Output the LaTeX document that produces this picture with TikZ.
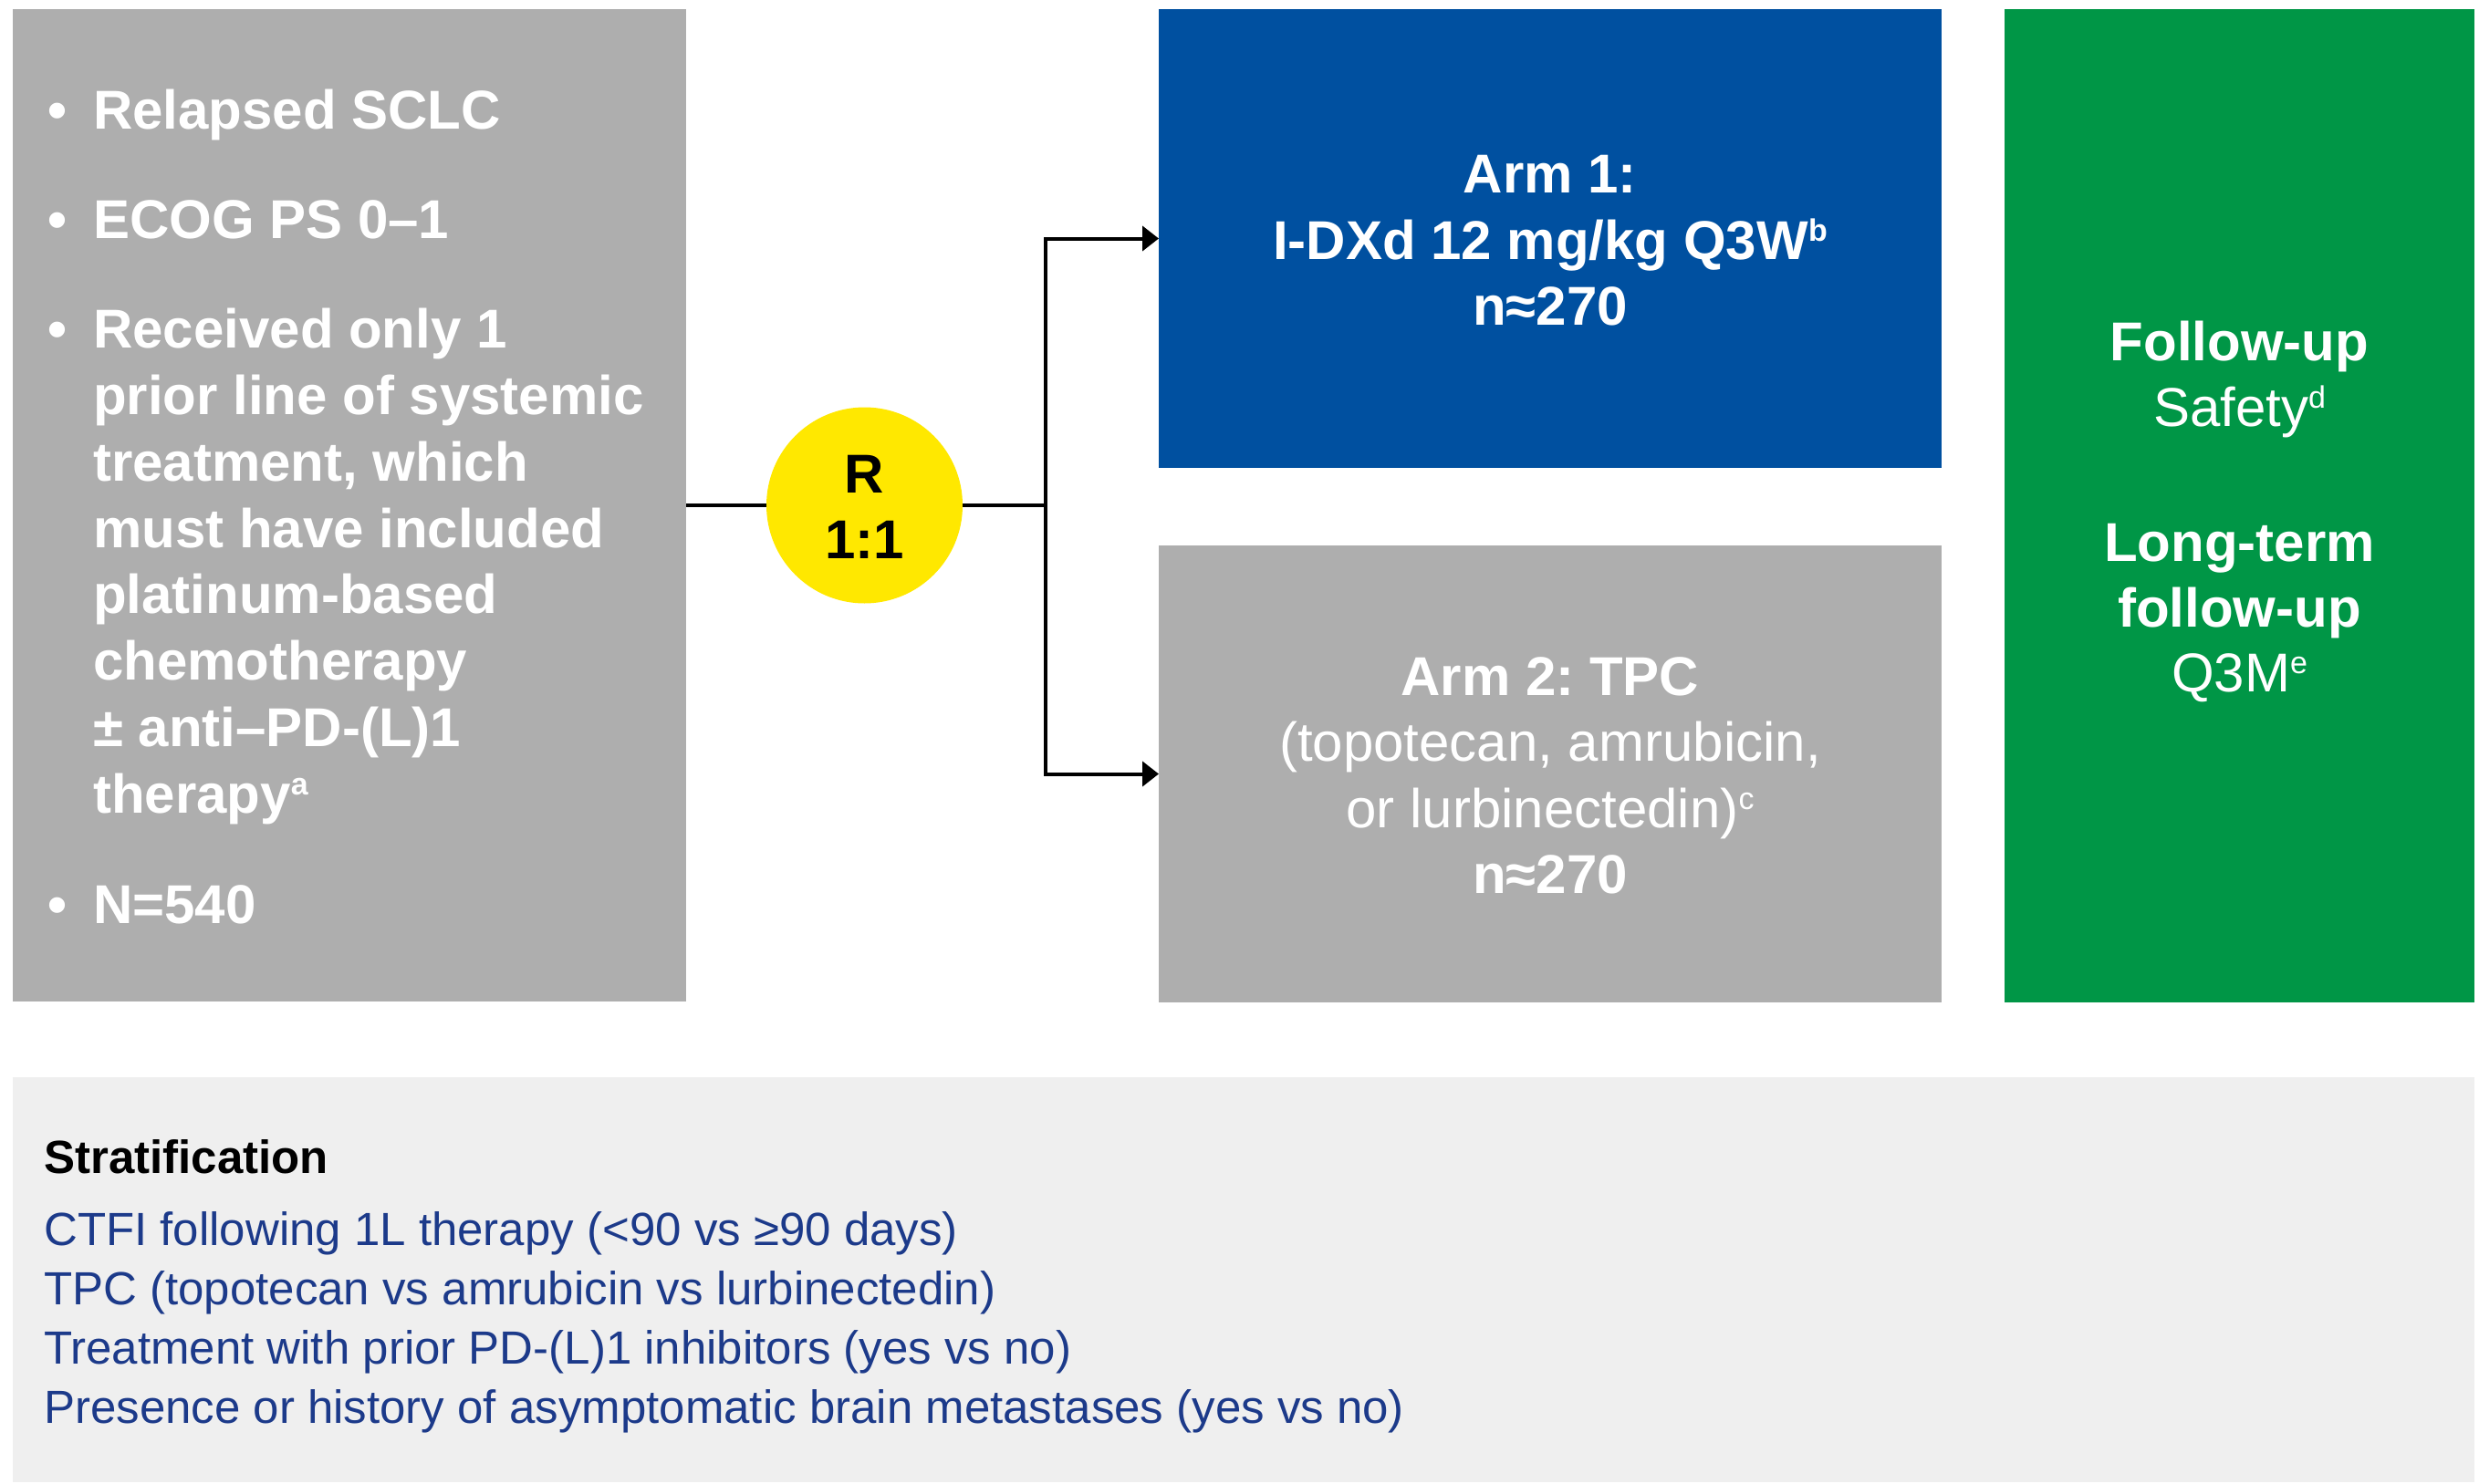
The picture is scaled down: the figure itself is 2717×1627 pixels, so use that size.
\documentclass[tikz,border=0pt]{standalone}
\usepackage{fontspec}
\setmainfont{Liberation Sans}
\usetikzlibrary{arrows.meta}
\frenchspacing
\definecolor{boxgray}{RGB}{174,174,174}
\definecolor{armblue}{RGB}{0,80,160}
\definecolor{fugreen}{RGB}{0,150,70}
\definecolor{ryellow}{RGB}{255,232,0}
\definecolor{stratbg}{RGB}{239,239,239}
\definecolor{stratblue}{RGB}{28,58,138}
\newcommand\supr[1]{\raisebox{20pt}{\fontsize{34}{34}\selectfont #1}}
\begin{document}
\frenchspacing
\begin{tikzpicture}[x=1pt,y=-1pt,
  panel/.style={rectangle, inner sep=0pt, outer sep=0pt, anchor=north west, draw=none},
  wb/.style={font=\fontsize{60}{72}\selectfont\bfseries\frenchspacing, text=white, inner sep=0pt, anchor=base},
  wr/.style={font=\fontsize{60}{72}\selectfont\frenchspacing, text=white, inner sep=0pt, anchor=base},
  wbl/.style={wb, anchor=base west},
  kb/.style={font=\fontsize{60}{72}\selectfont\bfseries, text=black, inner sep=0pt, anchor=base},
  sthead/.style={font=\fontsize{51}{60}\selectfont\bfseries, text=black, inner sep=0pt, anchor=base west},
  stline/.style={font=\fontsize{51}{60}\selectfont\frenchspacing, text=stratblue, inner sep=0pt, anchor=base west},
  conn/.style={line width=4pt, black, line join=miter},
  tip/.style={-{Triangle[length=18pt,width=27pt]}}
]
\useasboundingbox (0,0) rectangle (2717,1627);
\fill[white] (0,0) rectangle (2717,1627);

% panels
\node[panel, fill=boxgray, minimum width=738pt, minimum height=1088pt] (inc) at (14,10) {};
\node[panel, fill=armblue, minimum width=858pt, minimum height=503pt] (arm1) at (1270,10) {};
\node[panel, fill=boxgray, minimum width=858pt, minimum height=501pt] (arm2) at (1270,598) {};
\node[panel, fill=fugreen, minimum width=515pt, minimum height=1089pt] (fu) at (2197,10) {};
\node[panel, fill=stratbg, minimum width=2698pt, minimum height=444pt] (strat) at (14,1181) {};
\node[circle, fill=ryellow, minimum size=215pt, inner sep=0pt, outer sep=0pt] (rand) at (947.5,554) {};

% connectors
\coordinate (jn) at (1146,554);
\draw[conn] (inc.east) -- (rand.west);
\draw[conn] (rand.east) -- (jn);
\draw[conn, tip] (jn) |- (arm1.west);
\draw[conn, tip] (jn) |- (arm2.west);

% inclusion criteria
\node[wb] (b1) at (63,141.7) {•};
\node[wb] (b2) at (63,261.7) {•};
\node[wb] (b3) at (63,381.7) {•};
\node[wb] (b4) at (63,1012.5) {•};
\node[wbl] (i1) at (102,141.7) {Relapsed SCLC};
\node[wbl] (i2) at (102,261.7) {ECOG PS 0–1};
\node[wbl] (i3) at (102,381.7) {Received only 1};
\node[wbl] (i4) at (102,454.5) {prior line of systemic};
\node[wbl] (i5) at (102,527.3) {treatment, which};
\node[wbl] (i6) at (102,600.1) {must have included};
\node[wbl] (i7) at (102,672.9) {platinum-based};
\node[wbl] (i8) at (102,745.7) {chemotherapy};
\node[wbl] (i9) at (102,818.5) {± anti–PD-(L)1};
\node[wbl] (i10) at (102,891.3) {therapy\supr{a}};
\node[wbl] (i11) at (102,1012.5) {N=540};

% randomisation
\node[kb] (r1) at (947.5,540) {R};
\node[kb] (r2) at (947.5,612.7) {1:1};

% arm 1
\node[wb] (a11) at (1699,211) {Arm 1:};
\node[wb] (a12) at (1699,284) {I-DXd 12 mg/kg Q3W\supr{b}};
\node[wb] (a13) at (1699,356.5) {n≈270};

% arm 2
\node[wb] (a21) at (1699,762) {Arm 2: TPC};
\node[wr] (a22) at (1699,834.5) {(topotecan, amrubicin,};
\node[wr] (a23) at (1699,907) {or lurbinectedin)\supr{c}};
\node[wb] (a24) at (1699,979.5) {n≈270};

% follow-up
\node[wb] (f1) at (2454.5,395.5) {Follow-up};
\node[wr] (f2) at (2454.5,467) {Safety\supr{d}};
\node[wb] (f3) at (2454.5,615.5) {Long-term};
\node[wb] (f4) at (2454.5,687) {follow-up};
\node[wr] (f5) at (2454.5,758.5) {Q3M\supr{e}};

% stratification
\node[sthead] (s0) at (48,1286.7) {Stratification};
\node[stline] (s1) at (48,1365.7) {CTFI following 1L therapy (<90 vs ≥90 days)};
\node[stline] (s2) at (48,1430.7) {TPC (topotecan vs amrubicin vs lurbinectedin)};
\node[stline] (s3) at (48,1495.7) {Treatment with prior PD-(L)1 inhibitors (yes vs no)};
\node[stline] (s4) at (48,1560.7) {Presence or history of asymptomatic brain metastases (yes vs no)};
\end{tikzpicture}
\end{document}
